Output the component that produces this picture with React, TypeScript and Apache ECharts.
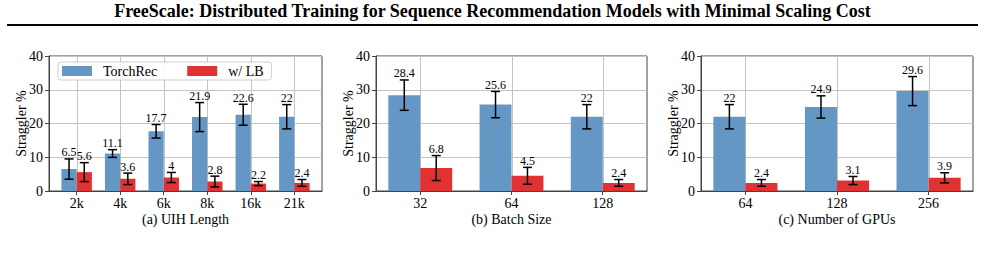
import React, { useEffect, useRef } from "react";
import * as echarts from "echarts";

const uihCats = ["2k", "4k", "6k", "8k", "16k", "21k"];
const uihTorch = [6.5, 11.1, 17.7, 21.9, 22.6, 22];
const uihTorchErr = [3.0, 1.15, 2.0, 4.3, 3.1, 3.6];
const uihLB = [5.6, 3.6, 4, 2.8, 2.2, 2.4];
const uihLBErr = [2.8, 1.7, 1.5, 1.6, 0.6, 1.0];

const batchCats = ["32", "64", "128"];
const batchTorch = [28.4, 25.6, 22];
const batchTorchErr = [4.5, 3.9, 3.6];
const batchLB = [6.8, 4.5, 2.4];
const batchLBErr = [3.7, 2.5, 1.0];

const gpuCats = ["64", "128", "256"];
const gpuTorch = [22, 24.9, 29.6];
const gpuTorchErr = [3.6, 3.3, 4.3];
const gpuLB = [2.4, 3.1, 3.9];
const gpuLBErr = [1.0, 1.2, 1.5];

const yTicks = [0, 10, 20, 30, 40];
const xNames = ["(a) UIH Length", "(b) Batch Size", "(c) Number of GPUs"];
const TITLE = "FreeScale: Distributed Training for Sequence Recommendation Models with Minimal Scaling Cost";

const FONT = "Liberation Serif";
const BLUE = "#6497C3";
const RED = "#E03232";
const FRAME = "#444";
const GRID = "#c4c4c4";
const BAR_W = 0.35;
const Y_MAX = 40;

function makeRender(offset: number, color: string, withGrid: boolean) {
  return (params: any, api: any) => {
    const i = api.value(0);
    const v = api.value(1);
    const e = api.value(2);
    const p0 = api.coord([i + offset, 0]);
    const p1 = api.coord([i + offset + BAR_W, v]);
    const cx = api.coord([i + offset + BAR_W / 2, v])[0];
    const top = api.coord([i, v + e])[1];
    const bot = api.coord([i, v - e])[1];
    const g0 = api.coord([i, 0]);
    const g1 = api.coord([i, Y_MAX]);
    const cap = 4.5;
    const lineStyle = { stroke: "#000", lineWidth: 1.5 };
    const children: any[] = [];
    if (withGrid) {
      const gx = Math.round(g0[0]) + 0.5;
      children.push({
        type: "line",
        shape: { x1: gx, y1: g0[1], x2: gx, y2: g1[1] },
        style: { stroke: GRID, lineWidth: 1 },
      });
    }
    children.push(
      {
        type: "rect",
        shape: { x: p0[0], y: p1[1], width: p1[0] - p0[0], height: p0[1] - p1[1] },
        style: { fill: color },
      },
      { type: "line", shape: { x1: cx, y1: top, x2: cx, y2: bot }, style: lineStyle },
      { type: "line", shape: { x1: cx - cap, y1: top, x2: cx + cap, y2: top }, style: lineStyle },
      { type: "line", shape: { x1: cx - cap, y1: bot, x2: cx + cap, y2: bot }, style: lineStyle },
      {
        type: "text",
        x: cx,
        y: top - 0.5,
        style: {
          text: String(v),
          fontSize: 12,
          fontFamily: FONT,
          fill: "#000",
          align: "center",
          verticalAlign: "bottom",
        },
      }
    );
    return { type: "group", children };
  };
}

export default function App() {
  const ref = useRef<HTMLDivElement>(null);

  useEffect(() => {
    if (!ref.current) return;
    const chart = echarts.init(ref.current, undefined, { renderer: "svg" });

    const panels = [
      { cats: uihCats, t: uihTorch, te: uihTorchErr, l: uihLB, le: uihLBErr, left: 49, width: 273 },
      { cats: batchCats, t: batchTorch, te: batchTorchErr, l: batchLB, le: batchLBErr, left: 376, width: 271 },
      { cats: gpuCats, t: gpuTorch, te: gpuTorchErr, l: gpuLB, le: gpuLBErr, left: 701, width: 272 },
    ];

    const grids: any[] = [];
    const xAxes: any[] = [];
    const yAxes: any[] = [];
    const series: any[] = [];

    panels.forEach((p, k) => {
      const n = p.cats.length;
      const margin = 0.05 * (n - 1 + 2 * BAR_W);
      const idx = p.cats.map((_, i) => i);
      grids.push({
        left: p.left,
        top: 56,
        width: p.width,
        height: 135,
        show: true,
        borderColor: FRAME,
        borderWidth: 1,
        backgroundColor: "transparent",
      });
      xAxes.push({
        type: "value",
        gridIndex: k,
        min: -BAR_W - margin,
        max: n - 1 + BAR_W + margin,
        name: xNames[k],
        nameLocation: "middle",
        nameGap: 21,
        nameMoveOverlap: false,
        nameTextStyle: { fontFamily: FONT, fontSize: 14, color: "#000" },
        axisLine: { show: true, onZero: false, lineStyle: { color: FRAME } },
        axisTick: { show: true, length: 4, customValues: idx, lineStyle: { color: FRAME } },
        axisLabel: {
          customValues: idx,
          formatter: (v: number) => p.cats[Math.round(v)] ?? "",
          fontFamily: FONT,
          fontSize: 14,
          color: "#000",
          margin: 5,
        },
        splitLine: { show: false },
      });
      yAxes.push({
        type: "value",
        gridIndex: k,
        min: 0,
        max: Y_MAX,
        interval: 10,
        name: "Straggler %",
        nameLocation: "middle",
        nameGap: 21,
        nameMoveOverlap: false,
        nameRotate: 90,
        nameTextStyle: { fontFamily: FONT, fontSize: 14, color: "#000" },
        axisLine: { show: true, onZero: false, lineStyle: { color: FRAME } },
        axisTick: { show: true, length: 4, lineStyle: { color: FRAME } },
        axisLabel: {
          fontFamily: FONT,
          fontSize: 14,
          color: "#000",
          margin: 6,
          formatter: (v: number) => (yTicks.includes(v) ? String(v) : ""),
        },
        splitLine: { show: true, lineStyle: { color: GRID, width: 1 } },
      });
      series.push({
        type: "custom",
        name: "TorchRec",
        xAxisIndex: k,
        yAxisIndex: k,
        itemStyle: { color: BLUE },
        encode: { x: 0, y: 1 },
        data: idx.map((i) => [i, p.t[i], p.te[i]]),
        renderItem: makeRender(-BAR_W, BLUE, true),
        z: 2,
      });
      series.push({
        type: "custom",
        name: "w/ LB",
        xAxisIndex: k,
        yAxisIndex: k,
        itemStyle: { color: RED },
        encode: { x: 0, y: 1 },
        data: idx.map((i) => [i, p.l[i], p.le[i]]),
        renderItem: makeRender(0, RED, false),
        z: 3,
      });
    });

    chart.setOption({
      animation: false,
      backgroundColor: "#fff",
      textStyle: { fontFamily: FONT },
      title: {
        text: TITLE,
        left: "center",
        top: 2,
        padding: 0,
        textStyle: { fontFamily: FONT, fontWeight: "bold", fontSize: 18, color: "#000" },
      },
      graphic: [
        {
          type: "line",
          shape: { x1: 7, y1: 25, x2: 978, y2: 25 },
          style: { stroke: "#000", lineWidth: 2 },
        },
      ],
      legend: {
        data: ["TorchRec", "w/ LB"],
        left: 58,
        top: 62,
        orient: "horizontal",
        icon: "rect",
        itemWidth: 30,
        itemHeight: 10,
        itemGap: 30,
        padding: [2, 8, 2, 4],
        borderColor: "#cfcfcf",
        borderWidth: 1,
        borderRadius: 3,
        backgroundColor: "rgba(255,255,255,0.85)",
        textStyle: { fontFamily: FONT, fontSize: 14, color: "#000", padding: [0, 0, 0, 6] },
        z: 10,
      },
      grid: grids,
      xAxis: xAxes,
      yAxis: yAxes,
      series,
    });

    return () => chart.dispose();
  }, []);

  return (
    <div
      ref={ref}
      style={{ position: "fixed", left: 0, top: 0, width: 985, height: 264, background: "#fff" }}
    />
  );
}
